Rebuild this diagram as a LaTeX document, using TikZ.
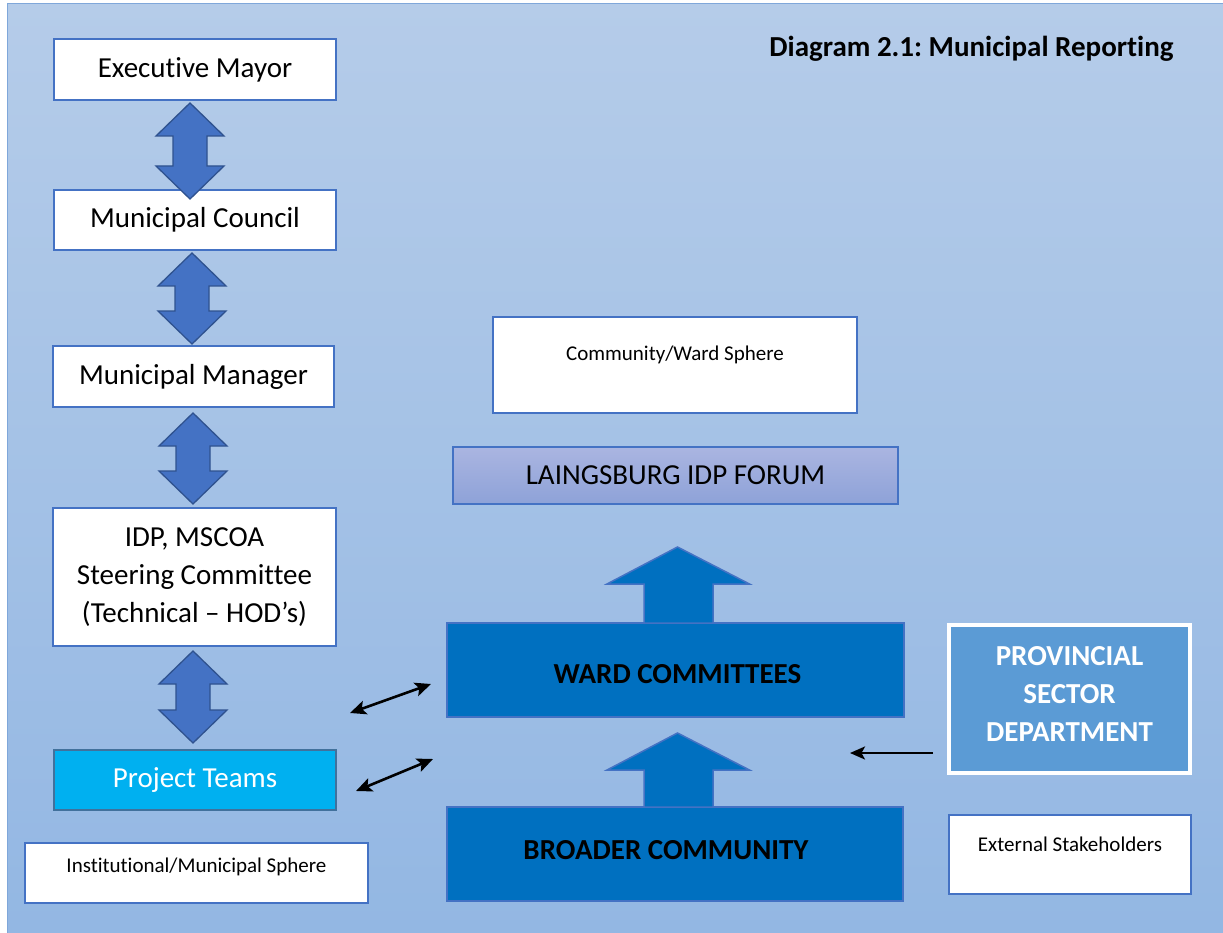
\documentclass[tikz,border=0pt]{standalone}
\usepackage{fontspec}
\setmainfont{Carlito}[Ligatures=CommonOff]
\frenchspacing
\usetikzlibrary{arrows.meta}
\definecolor{bgtop}{HTML}{B5CCE9}
\definecolor{bgbot}{HTML}{93B7E3}
\definecolor{bgline}{HTML}{7FA7DA}
\definecolor{boxline}{HTML}{4472C4}
\definecolor{arrowfill}{HTML}{4472C4}
\definecolor{arrowline}{HTML}{2F528F}
\definecolor{wardfill}{HTML}{0070C0}
\definecolor{ptfill}{HTML}{00B0F0}
\definecolor{ptline}{HTML}{41719C}
\definecolor{provfill}{HTML}{5B9BD5}
\definecolor{forumtop}{HTML}{AAB5E1}
\definecolor{forumbot}{HTML}{8EA2D8}
\newcommand\dblockarrow[3]{%
  \filldraw[blockarrow] (#1,#2) -- (#1+34,#2+33) -- (#1+17,#2+33) -- (#1+17,#3-33)
    -- (#1+34,#3-33) -- (#1,#3) -- (#1-34,#3-33) -- (#1-17,#3-33) -- (#1-17,#2+33)
    -- (#1-34,#2+33) -- cycle;}
\newcommand\ublockarrow[3]{%
  \filldraw[uparrowstyle] (#1,#2) -- (#1+72,#2+37) -- (#1+35.5,#2+37) -- (#1+35.5,#3)
    -- (#1-33.5,#3) -- (#1-33.5,#2+37) -- (#1-70.5,#2+37) -- cycle;}
\begin{document}
\begin{tikzpicture}[x=1pt,y=-1pt,
  big/.style={font=\fontsize{29}{38}\selectfont},
  bigbold/.style={font=\fontsize{29}{38}\selectfont\bfseries},
  small/.style={font=\fontsize{21}{26}\selectfont},
  whitebox/.style={draw=boxline,line width=2pt,fill=white,inner sep=0pt,align=center},
  wardbox/.style={draw=boxline,line width=2pt,fill=wardfill,inner sep=0pt,align=center,bigbold},
  blockarrow/.style={fill=arrowfill,draw=arrowline,line width=1.3pt,line join=miter},
  uparrowstyle/.style={fill=wardfill,draw=boxline,line width=1.5pt,line join=miter},
  blackarrow/.style={draw=black,line width=2.6pt,{Stealth[length=16pt,width=14pt,inset=3.5pt]}-{Stealth[length=16pt,width=14pt,inset=3.5pt]}},
  onearrow/.style={draw=black,line width=2.4pt,-{Stealth[length=15pt,width=13pt,inset=3.5pt]}}
]
\useasboundingbox (0,0) rectangle (1223,933);
\shade[top color=bgtop,bottom color=bgbot] (7,4) rectangle (1223,933);
\draw[bgline,line width=1pt] (7,933) -- (7,4) -- (1223,4);

% title
\node[anchor=base,bigbold] (title) at (971.5,57) {Diagram 2.1: Municipal Reporting};

% left column
\node[whitebox,big,minimum width=282,minimum height=61] (em) at (195,69.5) {Executive Mayor};
\node[whitebox,big,minimum width=282,minimum height=60] (mc) at (195,220) {Municipal Council};
\node[whitebox,big,minimum width=281,minimum height=61] (mm) at (193.5,376.5) {Municipal Manager};
\node[whitebox,big,minimum width=283,minimum height=138] (idp) at (194.5,577)
  {IDP, MSCOA\\Steering Committee\\(Technical – HOD’s)};
\node[draw=ptline,line width=2pt,fill=ptfill,inner sep=0pt,big,text=white,
  minimum width=282,minimum height=60] (pt) at (195,780) {Project Teams};
\node[whitebox,minimum width=343,minimum height=60] (ims) at (196.5,873) {};
\node[small] (imstext) at ([yshift=6pt]ims.center) {Institutional/Municipal Sphere};

\dblockarrow{190}{103}{199}
\dblockarrow{192}{253}{344}
\dblockarrow{193}{413}{504}
\dblockarrow{193}{651}{743}

% middle column
\node[whitebox,minimum width=364,minimum height=96] (cws) at (675,365) {};
\node[small] (cwstext) at ([yshift=10pt]cws.center) {Community/Ward Sphere};
\node[draw=boxline,line width=1.5pt,top color=forumtop,bottom color=forumbot,inner sep=0pt,
  big,minimum width=445,minimum height=57] (forum) at (675.5,475.5) {LAINGSBURG IDP FORUM};
\node[wardbox,minimum width=457,minimum height=94] (ward) at (675.5,670) {};
\node[bigbold] (wardtext) at ([yshift=-4pt,xshift=2pt]ward.center) {WARD COMMITTEES};
\node[wardbox,minimum width=456,minimum height=94] (broad) at (675,854) {};
\node[bigbold] (broadtext) at ([yshift=4pt,xshift=-9pt]broad.center) {BROADER COMMUNITY};

\ublockarrow{677.5}{547}{623}
\ublockarrow{677.5}{733}{807}

% right column
\node[draw=white,line width=4pt,fill=provfill,inner sep=0pt,minimum width=241,minimum height=148]
  (prov) at (1069.5,699) {};
\node[bigbold,text=white,align=center] (provtext) at ([yshift=5pt]prov.center)
  {PROVINCIAL\\SECTOR\\DEPARTMENT};
\node[whitebox,minimum width=242,minimum height=79] (ext) at (1070,854.5) {};
\node[small] (exttext) at ([yshift=10pt]ext.center) {External Stakeholders};

% black connectors
\coordinate (a1l) at (350,713);
\coordinate (a1r) at (431,684);
\coordinate (a2l) at (356,791);
\coordinate (a2r) at (433,759);
\coordinate (a3e) at (850,753);
\draw[blackarrow] (a1l) -- (a1r);
\draw[blackarrow] (a2l) -- (a2r);
\draw[onearrow] (prov.west |- a3e) ++(-14,0) -- (a3e);
\end{tikzpicture}
\end{document}
